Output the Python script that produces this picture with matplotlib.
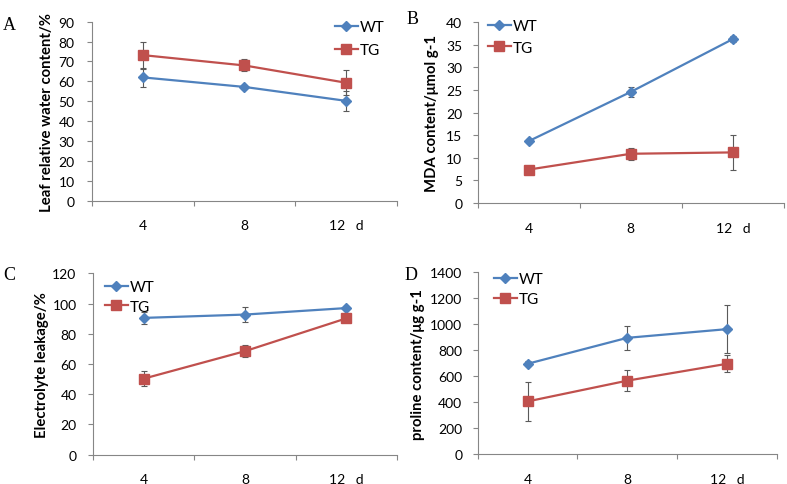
import matplotlib
matplotlib.use("Agg")
import matplotlib.pyplot as plt
from matplotlib.lines import Line2D

plt.rcParams['font.family'] = ['Lato', 'DejaVu Sans']

days = ['4', '8', '12   d']

# Panel A: leaf relative water content (%)
a_wt = [62.0, 57.2, 50.2]
a_wt_err = [4.8, 1.2, 5.0]
a_tg = [73.2, 68.0, 59.3]
a_tg_err = [6.8, 3.0, 6.4]

# Panel B: MDA content (umol g-1)
b_wt = [13.7, 24.6, 36.3]
b_wt_err = [0.5, 1.1, 0.6]
b_tg = [7.4, 10.9, 11.2]
b_tg_err = [0.3, 1.3, 3.8]

# Panel C: electrolyte leakage (%)
c_wt = [90.5, 92.7, 97.0]
c_wt_err = [4.2, 4.8, 1.0]
c_tg = [50.3, 68.5, 90.2]
c_tg_err = [4.8, 4.2, 1.0]

# Panel D: proline content (ug g-1)
d_wt = [695, 895, 962]
d_wt_err = [20, 90, 185]
d_tg = [405, 565, 695]
d_tg_err = [152, 82, 65]

W, H = 787, 485
fig = plt.figure(figsize=(W/100, H/100), dpi=100)

WT_C = '#4F81BD'
TG_C = '#C0504D'
ERR_C = '#5a5a5a'
PT = 0.72  # points per pixel at 100 dpi

def px(x0, y0, x1, y1):
    return [x0/W, 1 - y1/H, (x1-x0)/W, (y1-y0)/H]

panels = [
    dict(rect=px(92, 22.7, 397, 201.7), wt=a_wt, we=a_wt_err, tg=a_tg, te=a_tg_err,
         ylim=(0, 90), yt=range(0, 91, 10), ylabel='Leaf relative water content/%',
         letter='A', lpos=(3, 25), leg=(335, 25, 0.6), ylx=47, pad=12),
    dict(rect=px(477.7, 23.3, 784, 204), wt=b_wt, we=b_wt_err, tg=b_tg, te=b_tg_err,
         ylim=(0, 40), yt=range(0, 41, 5), ylabel='MDA content/μmol g-1',
         letter='B', lpos=(407, 20), leg=(488, 24, 0.5), ylx=432, pad=10),
    dict(rect=px(93, 274.3, 397, 455.7), wt=c_wt, we=c_wt_err, tg=c_tg, te=c_tg_err,
         ylim=(0, 120), yt=range(0, 121, 20), ylabel='Electrolyte leakage/%',
         letter='C', lpos=(3, 276), leg=(105, 285, 0.38), ylx=42, pad=11),
    dict(rect=px(477.7, 273.3, 776.7, 455), wt=d_wt, we=d_wt_err, tg=d_tg, te=d_tg_err,
         ylim=(0, 1400), yt=range(0, 1401, 200), ylabel='proline content/μg g-1',
         letter='D', lpos=(405, 275), leg=(494, 277, 0.42), ylx=418, pad=10),
]

x = list(range(len(days)))
for p in panels:
    ax = fig.add_axes(p['rect'])
    ax.errorbar(x, p['wt'], yerr=p['we'], color=WT_C, lw=1.6, marker='D', ms=5,
                mec=WT_C, ecolor=ERR_C, elinewidth=0.8, capsize=2.5, capthick=0.8, zorder=3)
    ax.errorbar(x, p['tg'], yerr=p['te'], color=TG_C, lw=1.6, marker='s', ms=7.5,
                mec=TG_C, ecolor=ERR_C, elinewidth=0.8, capsize=2.5, capthick=0.8, zorder=3)
    ax.set_xlim(-0.5, len(days) - 0.5)
    ax.set_ylim(*p['ylim'])
    ax.set_yticks(list(p['yt']))
    ax.set_xticks([i - 0.5 for i in range(len(days) + 1)])
    ax.set_xticklabels([])
    ax.set_xticks(x, minor=True)
    ax.set_xticklabels(days, minor=True)
    ax.tick_params(axis='x', which='major', length=5*PT, width=0.8, color='#868686', direction='out')
    ax.tick_params(axis='x', which='minor', length=0, pad=13.5, labelsize=10)
    ax.tick_params(axis='y', length=5.5*PT, width=0.8, color='#868686', labelsize=10,
                   pad=p['pad']*PT)
    for s in ['top', 'right']:
        ax.spines[s].set_visible(False)
    for s in ['left', 'bottom']:
        ax.spines[s].set_color('#868686')
        ax.spines[s].set_linewidth(0.8)
    ax.set_ylabel(p['ylabel'], fontsize=10.7, fontweight='bold', va='center')
    bb = ax.get_position()
    ax.yaxis.set_label_coords((p['ylx']/W - bb.x0) / bb.width, 0.5)
    fig.text(p['lpos'][0]/W, 1 - p['lpos'][1]/H, p['letter'], fontsize=13,
             family=['Liberation Serif', 'DejaVu Serif'], va='center', ha='left')
    handles = [Line2D([], [], color=WT_C, lw=1.6, marker='D', ms=5),
               Line2D([], [], color=TG_C, lw=1.6, marker='s', ms=7.5)]
    lx, ly, sp = p['leg']
    fig.legend(handles, ['WT', 'TG'], loc='upper left',
               bbox_to_anchor=(lx/W, 1 - (ly - 4)/H), frameon=False, borderpad=0,
               borderaxespad=0, handlelength=1.5, handletextpad=0.15,
               labelspacing=sp, fontsize=11)

fig.savefig('out.png', dpi=100)
